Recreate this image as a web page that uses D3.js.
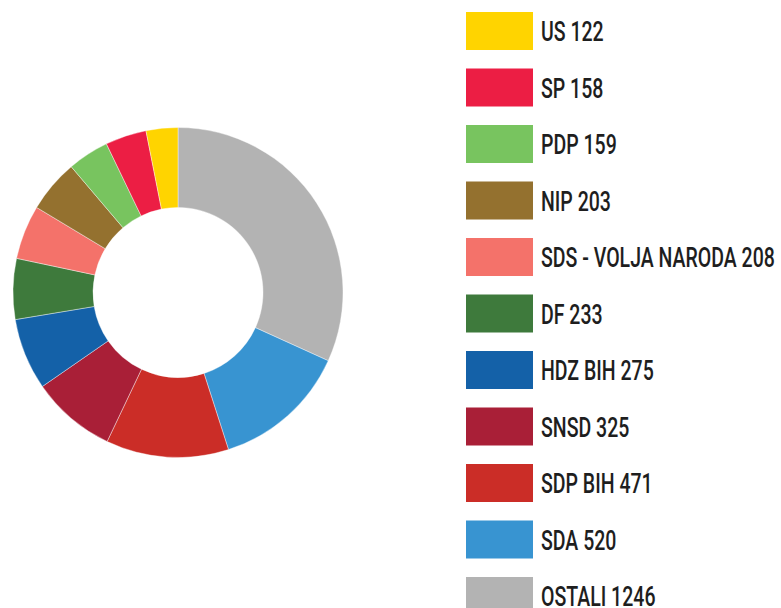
<!DOCTYPE html>
<html>
<head>
<meta charset="utf-8">
<script src="https://cdn.jsdelivr.net/npm/d3@7"></script>
<style>
  body { margin: 0; background: #fff; }
  svg { display: block; }
</style>
</head>
<body>
<div id="chart"></div>
<script>
// party results, in legend order (top to bottom)
var parties = ["US", "SP", "PDP", "NIP", "SDS - VOLJA NARODA", "DF", "HDZ BIH", "SNSD", "SDP BIH", "SDA", "OSTALI"];
var votes = [122, 158, 159, 203, 208, 233, 275, 325, 471, 520, 1246];
var colors = ["#ffd400", "#ec1e44", "#78c45f", "#94712f", "#f4726a", "#3e7a3c", "#1461a8", "#a91f37", "#cb2d27", "#3894d1", "#b3b3b3"];

var width = 781, height = 608;

var svg = d3.select("#chart")
    .append("svg")
    .attr("width", width)
    .attr("height", height);

var data = parties.map(function (p, i) { return { name: p, value: votes[i], color: colors[i] }; });

// donut: largest group starts at 12 o'clock, going clockwise (reverse of legend)
var pie = d3.pie()
    .value(d => d.value)
    .sort(null);

var arc = d3.arc()
    .innerRadius(85)
    .outerRadius(165);

var donut = svg.append("g")
    .attr("transform", "translate(178,292.5)");

donut.selectAll("path")
    .data(pie(data.slice().reverse()))
    .join("path")
    .attr("d", arc)
    .attr("fill", d => d.data.color)
    .attr("stroke", "#fff")
    .attr("stroke-width", 0.4);

// legend
var y = d3.scaleBand()
    .domain(parties)
    .range([12, 12 + 56.5 * parties.length])
    .paddingInner(0);

var legend = svg.append("g");

var rows = legend.selectAll("g.row")
    .data(data)
    .join("g")
    .attr("class", "row")
    .attr("transform", d => "translate(466," + y(d.name) + ")");

rows.append("rect")
    .attr("width", 67)
    .attr("height", 38)
    .attr("fill", d => d.color);

var labels = rows.append("text")
    .style("font-family", "Roboto, 'Liberation Sans', sans-serif")
    .style("font-size", "28px")
    .style("font-weight", "500")
    .style("fill", "#1e1e1e")
    .text(d => d.name + " " + d.value);

// condensed look: squeeze so the longest label spans ~234px like the original
var longest = d3.max(labels.nodes(), n => n.getComputedTextLength());
var sx = 234 / longest;
labels.attr("transform", "translate(75,29) scale(" + sx + ",1)");
</script>
</body>
</html>
